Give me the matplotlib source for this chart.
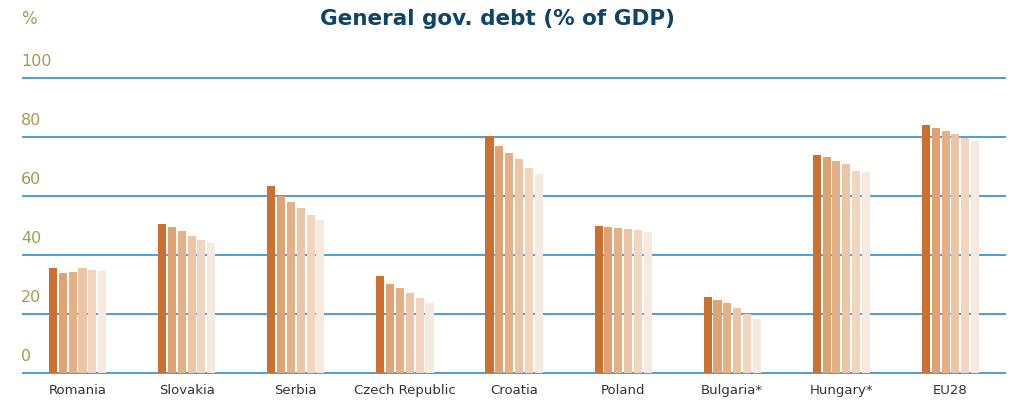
import numpy as np
import matplotlib.pyplot as plt

countries = ['Romania', 'Slovakia', 'Serbia', 'Czech Republic', 'Croatia',
             'Poland', 'Bulgaria*', 'Hungary*', 'EU28']

# one array per year, oldest first
debt_y1 = [35.6, 50.5, 63.3, 32.9, 80.3, 50.0, 25.9, 73.8, 84.0]
debt_y2 = [33.9, 49.5, 60.0, 30.2, 76.9, 49.6, 24.8, 73.1, 83.0]
debt_y3 = [34.2, 48.1, 57.8, 28.8, 74.5, 49.3, 23.8, 71.8, 82.0]
debt_y4 = [35.6, 46.4, 55.8, 27.1, 72.4, 48.9, 22.1, 70.7, 81.0]
debt_y5 = [34.9, 45.1, 53.7, 25.4, 69.4, 48.6, 20.1, 68.4, 79.6]
debt_y6 = [34.6, 44.1, 51.7, 23.7, 67.3, 47.9, 18.4, 68.0, 78.6]
series = [debt_y1, debt_y2, debt_y3, debt_y4, debt_y5, debt_y6]

yticks = [0, 20, 40, 60, 80, 100]

shades = ['#CC702F', '#DFA273', '#E4B187', '#ECC4A6', '#F1D5BF', '#F6E9DE']
gridcol = '#3A95D3'
labcol = '#A39C50'

fig = plt.figure(figsize=(10.11, 4.0), dpi=100)
ax = fig.add_axes([0.0228, 0.0675, 0.9713, 0.7375])

x = np.arange(len(countries))
w = 0.074
step = 0.09
for i, vals in enumerate(series):
    ax.bar(x + (i - 2.5) * step, vals, width=w, color=shades[i], zorder=3)

ax.set_xlim(-0.5, 8.5)
ax.set_ylim(0, 100)
for t in yticks:
    ax.axhline(t, color=gridcol, lw=1.4, alpha=0.9, zorder=2, clip_on=False)
    ax.text(-0.002, t + 5.6, str(t), transform=ax.get_yaxis_transform(),
            color=labcol, fontsize=11.5, ha='left', va='center')

ax.text(-0.002, 1.2, '%', transform=ax.transAxes, color=labcol,
        fontsize=12, ha='left', va='center')

ax.set_xticks(x)
ax.set_xticklabels(countries, fontsize=9.5, color='#333333')
ax.tick_params(axis='x', length=0, pad=8)
ax.set_yticks([])
for s in ax.spines.values():
    s.set_visible(False)

fig.text(0.492, 0.953, 'General gov. debt (% of GDP)', ha='center', va='center',
         fontsize=15.5, fontweight='bold', color='#0E4466')

fig.savefig('out.png', dpi=100)
